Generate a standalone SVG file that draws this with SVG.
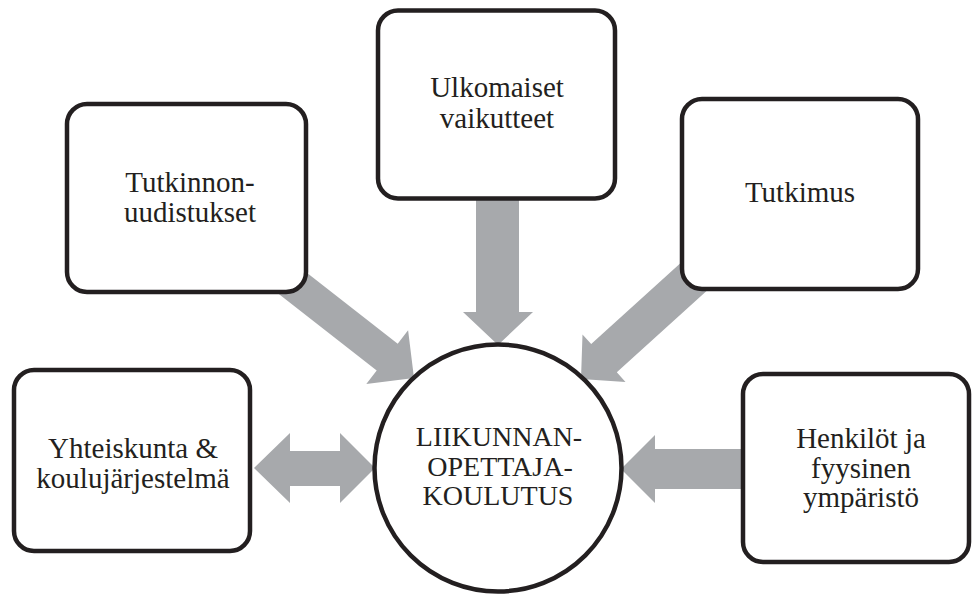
<svg xmlns="http://www.w3.org/2000/svg" width="972" height="594" viewBox="0 0 972 594">
<style>
.box{fill:#fff;stroke:#231f20;stroke-width:4.5}
.arr{fill:#a7a9ac;stroke:none}
.t{font-family:"Liberation Serif","Times New Roman",serif;font-size:29px;fill:#231f20;text-anchor:middle}
.c{font-family:"Liberation Serif","Times New Roman",serif;font-size:28px;fill:#231f20;text-anchor:middle}
</style>
<rect width="972" height="594" fill="#fff"/>
<g id="connectors">
<polygon class="arr" points="476,195 519,195 519,312 533,312 498,345 463,312 476,312"/>
<polygon class="arr" points="290.5,259.9 397.7,343.7 408.1,330.3 414,378 366.3,383.9 376.7,370.5 269.5,286.7"/>
<polygon class="arr" points="694.2,250.7 591.2,344.1 582.5,334.5 581,379 625.5,381.9 616.8,372.3 719.8,278.9"/>
<polygon class="arr" points="254,468 290,433 290,451 340,451 340,433 375,468 340,503 340,486 290,486 290,503"/>
<polygon class="arr" points="621,469 655,435 655,449 748,449 748,489 655,489 655,503"/>
</g>
<g id="ulkomaiset">
<rect class="box" x="378" y="10.5" width="237" height="188" rx="20"/>
<text class="t" x="497" y="97">Ulkomaiset</text>
<text class="t" x="497" y="128">vaikutteet</text>
</g>
<g id="tutkinnon">
<rect class="box" x="67" y="104" width="239" height="188" rx="20"/>
<text class="t" x="190" y="192">Tutkinnon-</text>
<text class="t" x="190" y="222">uudistukset</text>
</g>
<g id="tutkimus">
<rect class="box" x="682" y="99" width="236" height="190" rx="20"/>
<text class="t" x="800" y="202">Tutkimus</text>
</g>
<g id="yhteiskunta">
<rect class="box" x="14" y="370" width="236" height="181" rx="20"/>
<text class="t" x="133" y="458">Yhteiskunta &amp;</text>
<text class="t" x="133" y="488">koulujärjestelmä</text>
</g>
<g id="henkilot">
<rect class="box" x="743" y="374" width="226" height="188" rx="20"/>
<text class="t" x="861" y="448">Henkilöt ja</text>
<text class="t" x="861" y="478">fyysinen</text>
<text class="t" x="861" y="507">ympäristö</text>
</g>
<g id="liikunnanopettajakoulutus">
<circle cx="498" cy="468" r="123.5" fill="#fff" stroke="#231f20" stroke-width="4.5"/>
<text class="c" x="499" y="446">LIIKUNNAN-</text>
<text class="c" x="500" y="476">OPETTAJA-</text>
<text class="c" x="498" y="505">KOULUTUS</text>
</g>
</svg>
